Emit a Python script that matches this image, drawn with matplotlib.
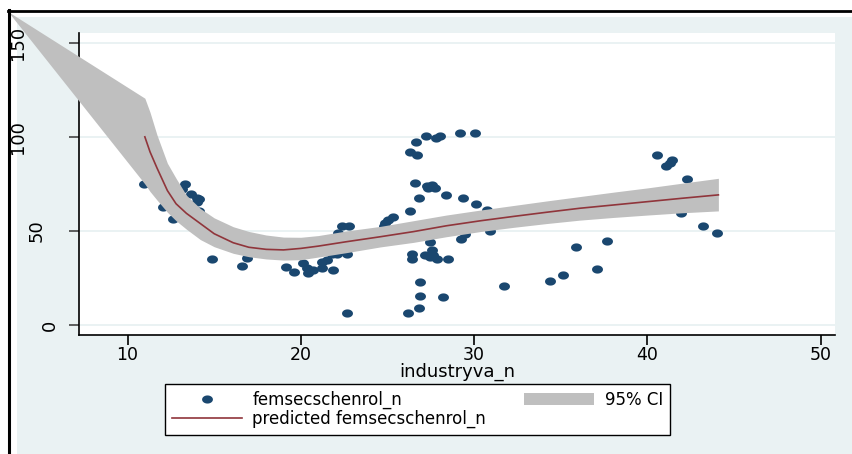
import numpy as np
import matplotlib
matplotlib.use("Agg")
import matplotlib.pyplot as plt
from matplotlib.patches import Rectangle
from matplotlib.lines import Line2D
from matplotlib.path import Path
from matplotlib.transforms import blended_transform_factory

plt.rcParams['font.family'] = ['DejaVu Sans']

# observed points: industryva_n (x) vs femsecschenrol_n (y)
industry = [10.96, 13.3, 13.13, 13.67, 14.0, 14.15, 14.0, 12.07, 14.15, 14.2,
            12.65, 15.03, 16.0, 14.85, 16.6, 16.88, 19.12, 19.6, 20.15, 20.35,
            20.44, 20.68, 21.21, 21.5, 21.25, 21.84, 21.8, 22.08, 22.65, 22.17,
            22.4, 22.8, 22.65, 24.78, 24.86, 25.05, 25.3, 26.28, 26.6, 26.82,
            26.3, 26.68, 26.63, 27.25, 27.78, 28.03, 29.18, 30.07, 27.27, 27.56,
            27.75, 27.35, 28.4, 29.38, 30.12, 30.72, 30.9, 29.22, 29.5, 27.43,
            27.56, 26.4, 26.4, 27.17, 27.45, 27.64, 27.85, 28.48, 26.87, 26.87,
            28.18, 26.8, 26.18, 31.7, 34.4, 35.15, 35.88, 37.08, 37.66, 40.54,
            41.08, 41.3, 41.4, 42.31, 41.93, 43.2, 44.03]
femsec = [74.8, 75.0, 72.2, 69.7, 67.4, 66.9, 65.3, 63.0, 60.5, 57.6,
          56.3, 53.8, 49.0, 35.0, 31.5, 35.6, 31.0, 28.5, 32.9, 30.3,
          27.6, 29.5, 33.8, 34.4, 30.3, 29.6, 37.8, 37.8, 37.8, 48.8,
          52.7, 52.7, 6.5, 52.7, 54.1, 55.8, 57.2, 60.7, 75.7, 67.4,
          91.9, 90.6, 97.5, 100.5, 99.3, 100.3, 101.9, 101.9, 73.9, 74.5,
          72.7, 72.8, 69.0, 67.4, 64.3, 61.2, 50.1, 45.7, 48.3, 44.1,
          40.1, 37.7, 35.4, 37.1, 36.4, 37.3, 35.4, 35.2, 23.1, 15.6,
          15.2, 9.3, 6.4, 20.9, 23.4, 26.7, 41.7, 29.9, 44.9, 90.4,
          84.6, 86.0, 87.7, 77.5, 59.4, 52.9, 49.2]

# predicted curve
fit_x = [11.0, 11.3, 11.7, 12.3, 12.8, 13.4, 14.2, 15.0, 16.1, 17.0, 18.0, 19.0, 20.0,
         21.0, 22.6, 24.6, 26.5, 28.4, 30.4, 32.3, 34.2, 36.1, 38.0, 40.0, 42.0, 44.1]
fit_y = [100, 92, 83.5, 71.5, 64.5, 59.4, 54, 48.6, 43.8, 41.4, 40.3, 40.0, 40.8,
         42.0, 44.3, 47, 49.7, 52.8, 55.5, 57.8, 60, 62.1, 63.8, 65.6, 67.4, 69.2]

# 95% CI band (first vertex is where the band runs off the picture)
ci_x = [3.1] + fit_x
ci_hi = [166.5, 120.5, 113, 101, 86, 78, 69, 62, 57, 52.3, 49.8, 47.9, 46.8, 46.7,
         47.6, 50, 52.5, 55.5, 58.5, 61.2, 63.6, 66, 68.3, 70.6, 72.9, 75.4, 78]
ci_lo = [166.5, 75, 71, 66.5, 60, 55.5, 51, 45.5, 41.7, 38.2, 36.4, 35.2, 34.6, 34.8,
         36.2, 38.5, 41.6, 44, 47, 49.8, 52, 54, 55.8, 57.2, 58.5, 59.7, 60.7]

xticks = [10, 20, 30, 40, 50]
yticks = [0, 50, 100, 150]

navy = '#1A476F'
maroon = '#90353B'
band = '#BFBFBF'
bg = '#EAF2F3'

W, H = 852, 454
fig = plt.figure(figsize=(W / 100, H / 100), dpi=100)
fig.patch.set_facecolor('white')

def fx(px):
    return px / W

def fy(py):
    return 1 - py / H

# graph region
fig.patches.append(Rectangle((fx(17), 0), 1 - fx(17), fy(17), transform=fig.transFigure,
                             facecolor=bg, edgecolor='none', zorder=-1))

ax = fig.add_axes([fx(79), fy(335), fx(835) - fx(79), fy(33) - fy(335)])
ax.set_facecolor('white')

# slightly wide ellipse marker, as in the reference
t = np.linspace(0, 2 * np.pi, 40)
ell = Path(np.column_stack([np.cos(t), 0.75 * np.sin(t)]), closed=True)

ax.scatter(industry, femsec, s=62, marker=ell, color=navy, linewidths=0, zorder=2)
ax.fill_between(ci_x, ci_lo, ci_hi, color=band, lw=0, zorder=3, clip_on=False)
ax.plot(fit_x, fit_y, color=maroon, lw=1.2, zorder=4)

ax.set_xlim(7.2, 50.83)
ax.set_ylim(-5.15, 155.1)

for s in ['top', 'right']:
    ax.spines[s].set_visible(False)
for s in ['left', 'bottom']:
    ax.spines[s].set_linewidth(1.2)
    ax.spines[s].set_color('black')

ax.set_yticks(yticks)
ax.yaxis.grid(True, color=bg, lw=1.4)
ax.set_axisbelow(True)
ax.tick_params(axis='y', length=7, width=1.2, color='#444444', labelleft=False)

ax.set_xticks(xticks)
ax.tick_params(axis='x', length=7, width=1.2, color='black', labelsize=12.5, pad=1)
ax.set_xlabel('industryva_n', fontsize=13, labelpad=-1)

# y tick labels, rotated, placed where the reference has them
trans = blended_transform_factory(fig.transFigure, ax.transData)
ylab_px = {0: 50, 50: 37, 100: 18, 150: 18}
for v in yticks:
    ax.text(fx(ylab_px[v]), v, str(v), transform=trans, rotation=90,
            ha='center', va='center', fontsize=13, clip_on=False)

# legend
h_pts = Line2D([], [], ls='none', marker=ell, markersize=7.8, color=navy, markeredgewidth=0)
h_fit = Line2D([], [], color=maroon, lw=1.2)
h_ci = Rectangle((0, 0), 1, 1, facecolor=band, edgecolor='none')
leg = fig.legend([h_pts, h_fit, h_ci],
                 ['femsecschenrol_n', 'predicted femsecschenrol_n', '95% CI'],
                 ncol=2, loc='upper left', mode='expand',
                 bbox_to_anchor=(fx(165), fy(384) - 0.2, fx(670) - fx(165), 0.2),
                 borderaxespad=0, fontsize=12, frameon=True, fancybox=False,
                 edgecolor='black', framealpha=1, handlelength=4.2, handleheight=0.8,
                 handletextpad=0.65, labelspacing=0.05, columnspacing=1.75,
                 borderpad=0.4)
leg.get_frame().set_linewidth(1.0)

# outer frame of the screenshot
fig.lines.append(Line2D([fx(8), 1], [fy(11), fy(11)], transform=fig.transFigure,
                        color='black', lw=2.0, zorder=10))
fig.lines.append(Line2D([fx(9), fx(9)], [fy(10), 0], transform=fig.transFigure,
                        color='black', lw=2.2, zorder=10))

fig.savefig('out.png', dpi=100)
